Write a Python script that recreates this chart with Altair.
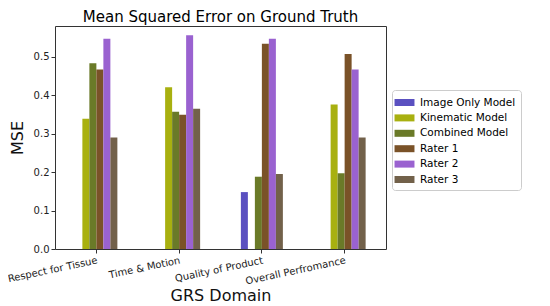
import altair as alt
import pandas as pd

categories = ["Respect for Tissue", "Time & Motion", "Quality of Product", "Overall Perfromance"]
series = ["Image Only Model", "Kinematic Model", "Combined Model", "Rater 1", "Rater 2", "Rater 3"]
colors = ["#5a50c0", "#a8b010", "#6a7a28", "#7a5228", "#9a62d0", "#72614a"]

image_only = [None, None, 0.148, None]
kinematic = [0.339, 0.421, None, 0.376]
combined = [0.483, 0.357, 0.188, 0.197]
rater1 = [0.467, 0.349, 0.534, 0.507]
rater2 = [0.547, 0.556, 0.547, 0.467]
rater3 = [0.290, 0.365, 0.195, 0.290]

values = [image_only, kinematic, combined, rater1, rater2, rater3]
rows = []
for s, vals in zip(series, values):
    for c, v in zip(categories, vals):
        if v is not None:
            rows.append({"domain": c, "model": s, "mse": v})
df = pd.DataFrame(rows)

font = "DejaVu Sans"

chart = alt.Chart(df).mark_bar().encode(
    x=alt.X("domain:N", sort=categories, title="GRS Domain",
            scale=alt.Scale(paddingInner=0.4924, paddingOuter=0.2462),
            axis=alt.Axis(labelAngle=348, labelAlign="right", labelBaseline="top",
                          labelFontSize=10, titleFontSize=16, titleFontWeight="normal",
                          titlePadding=1, tickSize=4, domain=False, labelPadding=2)),
    xOffset=alt.XOffset("model:N", sort=series,
                        scale=alt.Scale(domain=series, paddingInner=0, paddingOuter=0)),
    y=alt.Y("mse:Q", title="MSE",
            scale=alt.Scale(domain=[0, 0.58], nice=False, zero=True),
            axis=alt.Axis(values=[0, 0.1, 0.2, 0.3, 0.4, 0.5], format=".1f",
                          labelFontSize=10, titleFontSize=16, titleFontWeight="normal",
                          tickSize=4, domain=False, grid=False, titlePadding=8)),
    color=alt.Color("model:N", sort=series,
                    scale=alt.Scale(domain=series, range=colors),
                    legend=alt.Legend(title=None, orient="none", legendX=337, legendY=64,
                                      symbolType="M-1.33,-0.467L1.33,-0.467L1.33,0.467L-1.33,0.467Z",
                                      symbolSize=225, symbolStrokeWidth=0,
                                      labelFontSize=10.5, rowPadding=2.4, labelOffset=8,
                                      strokeColor="#cccccc", cornerRadius=3,
                                      padding=5, fillColor="white")),
).properties(
    width=331, height=223,
    title=alt.TitleParams("Mean Squared Error on Ground Truth", fontSize=15,
                          fontWeight="normal", font=font, offset=1),
    padding={"left": 47, "top": 18, "right": 156, "bottom": 57},
    autosize=alt.AutoSizeParams(type="none"),
).configure(font=font).configure_view(
    stroke="#333333", strokeWidth=1
).configure_axis(
    labelFont=font, titleFont=font, labelColor="#222222", titleColor="#111111",
    tickColor="#333333"
).configure_legend(labelFont=font)

chart.save("out.html", embed_options={"renderer": "svg", "actions": False})
